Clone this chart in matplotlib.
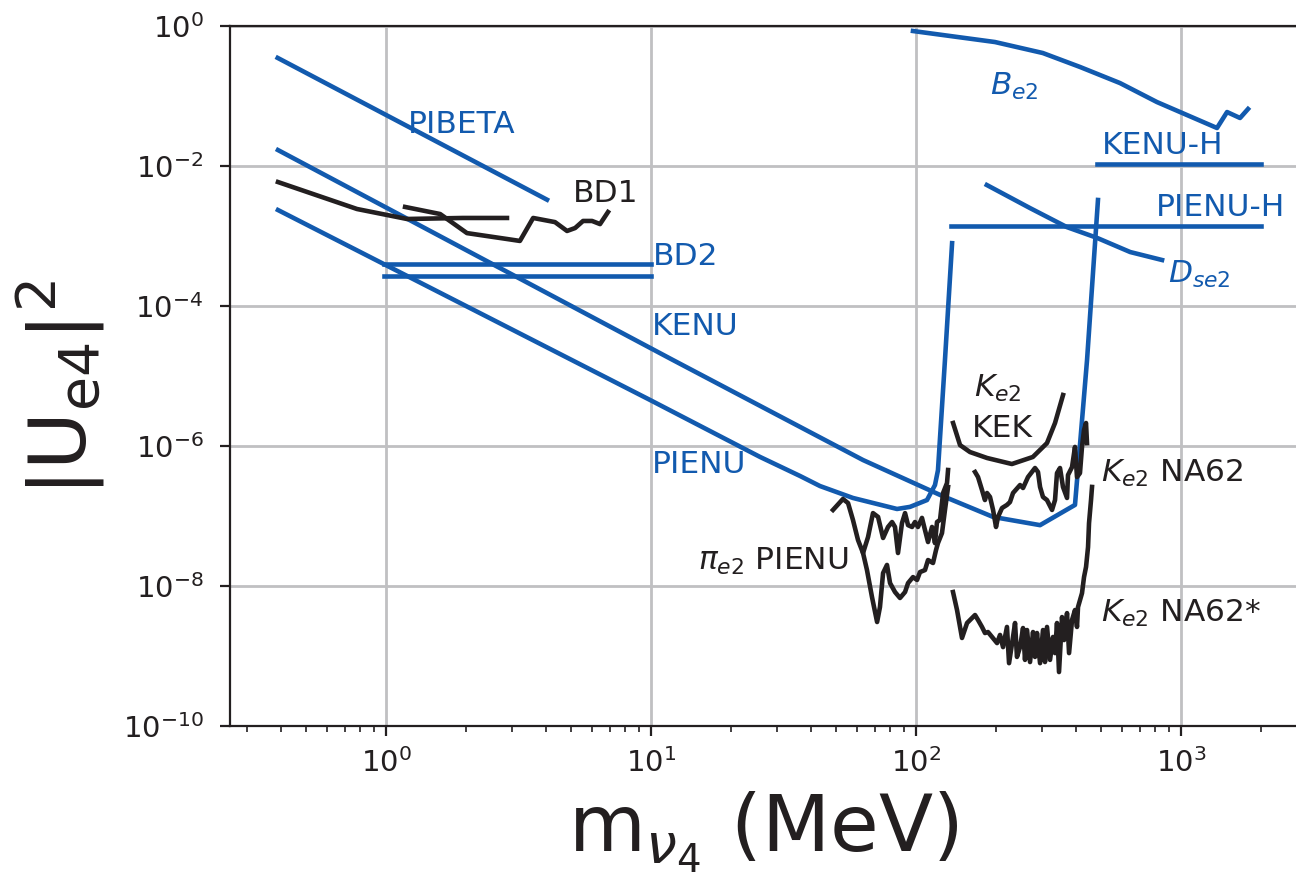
import matplotlib
matplotlib.use("Agg")
import matplotlib.pyplot as plt
from matplotlib.ticker import NullLocator, LogLocator

BLUE = "#125aae"
BLACK = "#231f20"

# blue limits
pibeta_x = [0.39, 4.05]
pibeta_y = [0.35, 3.3e-3]

kenu_x = [0.391, 12.1, 63.1, 123.2, 195.3, 293.8, 398, 442, 486]
kenu_y = [1.69e-2, 1.69e-5, 6.3e-7, 2.0e-7, 9.7e-8, 7.4e-8, 1.44e-7, 1.7e-5, 3.27e-3]

pienu_x = [0.391, 9.92, 25.8, 36.5, 43.4, 57.8, 84.8, 94.9, 110, 117.9, 121,
           128.6, 136.8]
pienu_y = [2.35e-3, 4.54e-6, 6.97e-7, 3.73e-7, 2.68e-7, 1.81e-7, 1.26e-7, 1.35e-7,
           1.69e-7, 2.77e-7, 4.5e-7, 1.7e-5, 7.9e-4]

bd2_x = [0.98, 10.0]
bd2_y_top = 3.98e-4
bd2_y_bot = 2.68e-4

be2_x = [97.4, 198.6, 301, 415.6, 588.5, 811, 1367, 1492, 1670, 1790]
be2_y = [0.848, 0.59, 0.411, 0.26, 0.153, 0.082, 0.0349, 0.059, 0.0485, 0.0652]

kenuh_x = [482, 2004]
kenuh_y = 1.07e-2
pienuh_x = [135.6, 2004]
pienuh_y = 1.4e-3

dse2_x = [185, 269, 371, 482, 643, 848]
dse2_y = [5.35e-3, 2.51e-3, 1.34e-3, 9.4e-4, 5.9e-4, 4.54e-4]

# black limits
bd1a_x = [0.391, 0.777, 1.2, 1.95, 2.86]
bd1a_y = [5.9e-3, 2.43e-3, 1.75e-3, 1.81e-3, 1.81e-3]
bd1b_x = [1.18, 1.6, 2.02, 2.86, 3.2, 3.59, 4.34, 4.82, 5.17, 5.54, 5.99, 6.42, 6.88]
bd1b_y = [2.6e-3, 2.06e-3, 1.1e-3, 9.06e-4, 8.5e-4, 1.81e-3, 1.58e-3, 1.18e-3,
          1.3e-3, 1.64e-3, 1.64e-3, 1.48e-3, 2.2e-3]

kek_x = [138, 146.6, 159.8, 185.4, 230, 276, 312, 334.6, 358.8]
kek_y = [2.13e-6, 1.03e-6, 8.2e-7, 6.74e-7, 5.53e-7, 6.97e-7, 1.1e-6, 2.13e-6, 5.35e-6]

na62_x = [167, 171.4, 177.4, 182, 185.3, 190.2, 195.3, 200.4, 203.9, 211.1, 220.4,
          226.2, 232.3, 246.9, 253.4, 264.6, 281.2, 288.6, 293.8, 301.4, 312, 326,
          334.6, 340.4, 349.4, 358.6, 371.4, 374.6, 387.9, 398, 405, 415.6, 423,
          430.5, 438, 441.8]
na62_y = [4.25e-7, 3.6e-7, 2.35e-7, 1.69e-7, 2.13e-7, 1.87e-7, 1.22e-7, 6.97e-8,
          9.7e-8, 1.3e-7, 1.44e-7, 1.58e-7, 2.13e-7, 2.77e-7, 2.51e-7, 3.6e-7,
          4.85e-7, 4.25e-7, 2.6e-7, 1.87e-7, 1.69e-7, 1.22e-7, 1.69e-7, 4.1e-7,
          4.85e-7, 2.6e-7, 1.81e-7, 3.85e-7, 5.0e-7, 9.7e-7, 3.6e-7, 4.1e-7,
          9.7e-7, 1.69e-6, 2.13e-6, 1.1e-6]

na62s_x = [137.9, 142.8, 149.1, 155.8, 162.7, 167, 171.4, 177.4, 182.1, 186.9,
           193.6, 202.2, 207.5, 213, 220.4, 224.4, 232.3, 236.4, 240.4, 246.9,
           253.4, 257.8, 262.4, 269.3, 276.4, 281.2, 286.1, 293.8, 301.4, 306.7,
           312.1, 320.4, 328.8, 334.6, 340.4, 346.4, 355.6, 361.9, 371.4, 378,
           387.9, 398.1, 405, 408.6, 423, 430.5, 438.1, 445.8, 449.6, 457.5, 461.5]
na62s_y = [8.2e-9, 4.54e-9, 1.81e-9, 2.96e-9, 3.49e-9, 3.85e-9, 3.27e-9, 2.6e-9,
           2.13e-9, 2.2e-9, 1.87e-9, 1.53e-9, 2.0e-9, 1.34e-9, 2.6e-9, 7.9e-10,
           1.87e-9, 2.96e-9, 9.7e-10, 1.34e-9, 2.51e-9, 8.8e-10, 2.35e-9, 8.2e-10,
           2.2e-9, 9.7e-10, 2.13e-9, 7.9e-10, 2.35e-9, 8.2e-10, 2.6e-9, 8.8e-10,
           1.87e-9, 1.1e-9, 2.96e-9, 5.9e-10, 3.6e-9, 1.69e-9, 4.1e-9, 1.1e-9,
           3.27e-9, 4.54e-9, 2.6e-9, 5.0e-9, 7.9e-9, 1.34e-8, 1.87e-8, 3.6e-8,
           7.9e-8, 1.69e-7, 2.6e-7]

pie2_up_x = [48.6, 53, 55.4, 57.8, 60.4, 63.1, 65.9, 68.8, 71.9, 75.1, 78.4, 81.2,
             83.3, 85.5, 88.5, 90.9, 93.3, 96.6, 99.1, 101.7, 105.3, 108.1, 111,
             114.9, 117.9, 120, 123.2, 126.5, 130.9, 132.1]
pie2_up_y = [1.22e-7, 1.75e-7, 1.53e-7, 8.8e-8, 4.54e-8, 2.96e-8, 5.0e-8, 1.1e-7,
             9.7e-8, 4.85e-8, 6.97e-8, 8.2e-8, 6.97e-8, 2.96e-8, 7.9e-8, 1.1e-7,
             7.4e-8, 6.97e-8, 8.2e-8, 6.97e-8, 9.4e-8, 6.3e-8, 4.25e-8, 6.97e-8,
             4.1e-8, 8.2e-8, 8.8e-8, 2.13e-7, 2.96e-7, 4.54e-7]
pie2_lo_x = [63.1, 65.3, 68.2, 71.3, 73.1, 75.1, 77.7, 79.8, 83.3, 87, 90.9, 93.3,
             97.4, 100.9, 103.5, 108.1, 111, 115.9, 119, 121, 125.3, 128.6, 132.1]
pie2_lo_y = [2.96e-8, 1.69e-8, 6.97e-9, 3.06e-9, 5.0e-9, 1.53e-8, 2.0e-8, 1.1e-8,
             8.2e-9, 6.74e-9, 8.2e-9, 1.1e-8, 1.34e-8, 1.22e-8, 1.58e-8, 1.69e-8,
             2.35e-8, 2.13e-8, 3.27e-8, 4.1e-8, 5.7e-8, 1.22e-7, 2.6e-7]

# labels: (text, x, y, color)
labels = [
    ("PIBETA", 1.21, 0.0296, BLUE),
    ("BD1", 5.08, 3.06e-3, BLACK),
    ("BD2", 10.2, 3.85e-4, BLUE),
    ("KENU", 10.1, 3.85e-5, BLUE),
    ("PIENU", 10.1, 4.1e-7, BLUE),
    (r"$\pi_{e2}$ PIENU", 15.0, 1.69e-8, BLACK),
    (r"$K_{e2}$", 165.5, 5.0e-6, BLACK),
    ("KEK", 162.7, 1.34e-6, BLACK),
    (r"$K_{e2}$ NA62", 499, 3.06e-7, BLACK),
    (r"$K_{e2}$ NA62*", 499, 3.06e-9, BLACK),
    (r"$B_{e2}$", 190, 0.103, BLUE),
    ("KENU-H", 503, 0.0148, BLUE),
    ("PIENU-H", 805, 1.93e-3, BLUE),
    (r"$D_{se2}$", 893, 2.13e-4, BLUE),
]

fig = plt.figure(figsize=(12.96, 8.83), dpi=100)
ax = fig.add_axes([230 / 1296, 157 / 883, 1066 / 1296, 700 / 883])
ax.set_xscale("log")
ax.set_yscale("log")
ax.set_xlim(0.2577, 2716)
ax.set_ylim(1e-10, 1)

lw = 3.3
ax.plot(pibeta_x, pibeta_y, color=BLUE, lw=lw)
ax.plot(kenu_x, kenu_y, color=BLUE, lw=lw)
ax.plot(pienu_x, pienu_y, color=BLUE, lw=lw)
ax.plot(bd2_x, [bd2_y_top] * 2, color=BLUE, lw=lw)
ax.plot(bd2_x, [bd2_y_bot] * 2, color=BLUE, lw=lw)
ax.plot(be2_x, be2_y, color=BLUE, lw=lw)
ax.plot(kenuh_x, [kenuh_y] * 2, color=BLUE, lw=lw)
ax.plot(pienuh_x, [pienuh_y] * 2, color=BLUE, lw=lw)
ax.plot(dse2_x, dse2_y, color=BLUE, lw=lw)

ax.plot(bd1a_x, bd1a_y, color=BLACK, lw=lw)
ax.plot(bd1b_x, bd1b_y, color=BLACK, lw=lw)
ax.plot(kek_x, kek_y, color=BLACK, lw=lw)
ax.plot(na62_x, na62_y, color=BLACK, lw=lw)
ax.plot(na62s_x, na62s_y, color=BLACK, lw=lw)
ax.plot(pie2_up_x, pie2_up_y, color=BLACK, lw=lw)
ax.plot(pie2_lo_x, pie2_lo_y, color=BLACK, lw=lw)

for txt, x, y, c in labels:
    ax.text(x, y, txt, color=c, fontsize=22.5, ha="left", va="baseline")

ax.yaxis.set_major_locator(LogLocator(base=100))
ax.yaxis.set_minor_locator(NullLocator())
ax.grid(True, which="major", color="#c0c0c2", lw=2)
ax.set_axisbelow(True)

for s in ["left", "bottom", "top"]:
    ax.spines[s].set_color(BLACK)
    ax.spines[s].set_linewidth(1.6)
ax.spines["right"].set_visible(False)

ax.tick_params(which="major", length=7, width=1.6, color=BLACK, labelsize=21,
               labelcolor=BLACK)
ax.tick_params(axis="y", which="major", pad=12)
ax.tick_params(axis="x", which="major", pad=9)
ax.tick_params(which="minor", length=4, width=1.2, color=BLACK)

ax.set_xlabel(r"m$_{\nu_4}$ (MeV)", fontsize=57, color=BLACK, labelpad=8)
ax.set_ylabel(r"$|\mathrm{U}_{\mathrm{e4}}|^2$", fontsize=57, color=BLACK)
ax.yaxis.set_label_coords(-0.115, 0.483)

fig.savefig("out.png", dpi=100)
